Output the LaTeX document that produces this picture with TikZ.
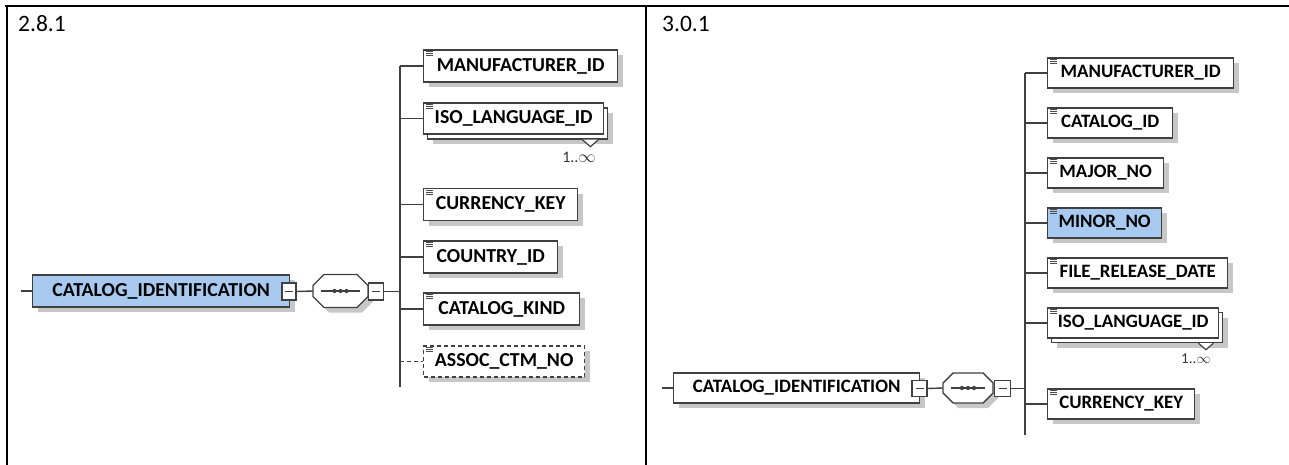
\documentclass[tikz,border=0pt]{standalone}
\usepackage{fontspec}
\setmainfont{Carlito}
\usetikzlibrary{shadows}
\definecolor{selblue}{RGB}{168,202,240}
\definecolor{edge}{RGB}{64,64,64}
\newcommand\fL{\fontsize{19.8}{21}\selectfont\bfseries}
\newcommand\fR{\fontsize{18.9}{20}\selectfont\bfseries}
\newcommand\octagonshape[5]{%
  \filldraw[octo] ({#1-#3},{#2-#4+#5}) -- ({#1-#3+#5},{#2-#4}) -- ({#1+#3-#5},{#2-#4}) -- ({#1+#3},{#2-#4+#5})
    -- ({#1+#3},{#2+#4-#5}) -- ({#1+#3-#5},{#2+#4}) -- ({#1-#3+#5},{#2+#4}) -- ({#1-#3},{#2+#4-#5}) -- cycle;
  \draw[conn] ({#1-#3+8},#2) -- ({#1+#3-8},#2);
  \foreach \dx in {-6,0,6} \fill[edge] ({#1+\dx},#2) circle (2.1);
}
\tikzset{
  x=1pt, y=-1pt,
  conn/.style={draw=edge, line width=1.4pt},
  tab/.style={draw=black, line width=2pt},
  shad/.style={drop shadow={shadow xshift=5pt, shadow yshift=-5pt, fill=black!22, opacity=1}},
  plainbox/.style={draw=edge, line width=1.4pt, fill=white, rectangle, inner sep=0pt, anchor=west},
  elbox/.style={plainbox, shad},
  octo/.style={draw=edge, line width=1.4pt, fill=white, shad},
  minus/.style={draw=edge, line width=1.3pt, fill=white, rectangle, inner sep=0pt, minimum width=14pt, minimum height=17pt},
  icon/.style={draw=black!70, line width=0.9pt},
  mult/.style={font=\fontsize{16}{17}\selectfont, text=black!80, inner sep=0pt},
  ver/.style={font=\fontsize{23.5}{25}\selectfont, anchor=base west, inner sep=0pt},
  notch/.style={draw=edge, line width=1.2pt, fill=white},
}
\begin{document}
\begin{tikzpicture}
\useasboundingbox (0,0) rectangle (1289,465);
% table
\draw[tab] (5,6) -- (1289,6);
\draw[tab] (7,5) -- (7,465);
\draw[tab] (645.5,5) -- (645.5,465);
\node[ver] (v1) at (18,32) {2.8.1};
\node[ver] (v2) at (662,32) {3.0.1};

% ================= left panel =================
\coordinate (s1) at (21,291);
\coordinate (bt1) at (400,66);
\coordinate (bb1) at (400,387);
\node[elbox, fill=selblue, minimum width=257pt, minimum height=32pt, font=\fL] (ci1) at (32,291) {CATALOG\_IDENTIFICATION\hspace{10pt}};
\node[minus] (m1a) at (289,291.5) {};
\node[inner sep=0pt, minimum width=55pt, minimum height=33pt] (o1) at (340.5,291) {};
\octagonshape{340.5}{291}{27.5}{16.5}{11}
\node[minus, minimum width=15pt] (m1b) at (376,291.5) {};

\node[elbox, minimum width=194pt, minimum height=32pt, font=\fL] (a1) at (423,66) {MANUFACTURER\_ID};
\node[elbox, minimum width=180pt, minimum height=31pt] (a2b) at (427,123.5) {};
\node[plainbox, minimum width=180pt, minimum height=31pt, font=\fL] (a2) at (423,118.5) {ISO\_LANGUAGE\_ID};
\node[elbox, minimum width=154pt, minimum height=32pt, font=\fL] (a3) at (423,204.5) {CURRENCY\_KEY};
\node[elbox, minimum width=134pt, minimum height=32pt, font=\fL] (a4) at (423,257) {COUNTRY\_ID};
\node[elbox, minimum width=156pt, minimum height=32pt, font=\fL] (a5) at (423,309) {CATALOG\_KIND};
\node[elbox, dashed, dash pattern=on 4pt off 3pt, minimum width=161pt, minimum height=31pt, font=\fL] (a6) at (423,361.5) {ASSOC\_CTM\_NO};
\filldraw[notch] ([xshift=-26pt]a2b.south east) -- ++(8,7) -- ++(8,-7);
\node[mult] (k1) at (579,157) {1..$\infty$};

\draw[conn] (s1) -- (ci1.west);
\draw[conn] (m1a.east) -- (o1.west);
\draw[conn] (m1b.east) -- (m1b.east -| bt1);
\draw[conn] (bt1) -- (bb1);
\foreach \n in {a1,a2,a3,a4,a5} \draw[conn] (\n.west -| bt1) -- (\n.west);
\draw[conn, dash pattern=on 4pt off 3pt] (a6.west -| bt1) -- (a6.west);
\foreach \n in {m1a,m1b} \draw[draw=edge, line width=1.3pt] ([xshift=-4pt]\n.center) -- ([xshift=4pt]\n.center);
\foreach \n in {a1,a2,a3,a4,a5,a6}
  \foreach \d in {2.5,4.5,6.5} \draw[icon] ([shift={(3,\d)}]\n.north west) -- ++(7,0);

% ================= right panel =================
\coordinate (s2) at (662,388);
\coordinate (bt2) at (1025,73);
\coordinate (bb2) at (1025,435);
\node[elbox, minimum width=246pt, minimum height=30pt, font=\fR] (ci2) at (673,388) {CATALOG\_IDENTIFICATION\hspace{10pt}};
\node[minus, minimum width=15pt, minimum height=16pt] (m2a) at (919.5,388.5) {};
\node[inner sep=0pt, minimum width=50pt, minimum height=30pt] (o2) at (968,388) {};
\octagonshape{968}{388}{25}{15}{10}
\node[minus, minimum width=16pt, minimum height=16pt] (m2b) at (1002.5,388.5) {};

\node[elbox, minimum width=186pt, minimum height=30pt, font=\fR] (b1) at (1047,73) {MANUFACTURER\_ID};
\node[elbox, minimum width=125pt, minimum height=30pt, font=\fR] (b2) at (1047,123) {CATALOG\_ID};
\node[elbox, minimum width=116pt, minimum height=30pt, font=\fR] (b3) at (1047,173) {MAJOR\_NO};
\node[elbox, fill=selblue, minimum width=114pt, minimum height=30pt, font=\fR] (b4) at (1047,223) {MINOR\_NO};
\node[elbox, minimum width=180pt, minimum height=30pt, font=\fR] (b5) at (1047,273) {FILE\_RELEASE\_DATE};
\node[elbox, minimum width=171pt, minimum height=30pt] (b6b) at (1051,327.5) {};
\node[plainbox, minimum width=171pt, minimum height=30pt, font=\fR] (b6) at (1047,323) {ISO\_LANGUAGE\_ID};
\node[elbox, minimum width=147pt, minimum height=30pt, font=\fR] (b7) at (1047,404) {CURRENCY\_KEY};
\filldraw[notch] ([xshift=-25pt]b6b.south east) -- ++(7.5,6.5) -- ++(7.5,-6.5);
\node[mult, font=\fontsize{15}{16}\selectfont] (k2) at (1196,359) {1..$\infty$};

\draw[conn] (s2) -- (ci2.west);
\draw[conn] (m2a.east) -- (o2.west);
\draw[conn] (m2b.east) -- (m2b.east -| bt2);
\draw[conn] (bt2) -- (bb2);
\foreach \n in {b1,b2,b3,b4,b5,b6,b7} \draw[conn] (\n.west -| bt2) -- (\n.west);
\foreach \n in {m2a,m2b} \draw[draw=edge, line width=1.3pt] ([xshift=-4pt]\n.center) -- ([xshift=4pt]\n.center);
\foreach \n in {b1,b2,b3,b4,b5,b6,b7}
  \foreach \d in {2.5,4.5,6.5} \draw[icon] ([shift={(3,\d)}]\n.north west) -- ++(7,0);
\end{tikzpicture}
\end{document}
